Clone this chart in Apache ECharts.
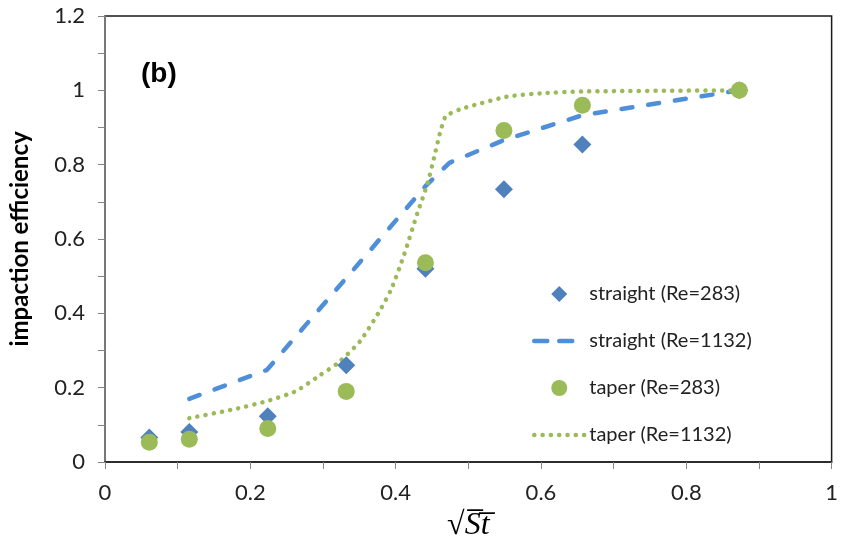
<!DOCTYPE html>
<html>
<head>
<meta charset="utf-8">
<script src="https://cdn.jsdelivr.net/npm/echarts@6/dist/echarts.min.js"></script>
<style>
html,body{margin:0;padding:0;background:#fff;}
#chart{width:841px;height:548px;}
</style>
</head>
<body>
<div id="chart"></div>
<script>
// sqrt(St) values of the measured points
var xPts = [0.061, 0.116, 0.224, 0.332, 0.441, 0.549, 0.657, 0.873];
var straight283 = [0.066, 0.081, 0.123, 0.26, 0.52, 0.734, 0.854, 1.0];
var taper283 = [0.053, 0.061, 0.09, 0.19, 0.536, 0.892, 0.96, 1.0];

// simulated curves
var straight1132X = [0.116, 0.223, 0.332, 0.441, 0.474, 0.549, 0.657, 0.873];
var straight1132Y = [0.17, 0.248, 0.495, 0.742, 0.805, 0.866, 0.933, 1.0];

var taper1132X = [0.116, 0.18, 0.223, 0.262, 0.294, 0.321, 0.351, 0.376, 0.394, 0.412, 0.43, 0.444, 0.453, 0.461, 0.469, 0.49, 0.508, 0.553, 0.6, 0.657, 0.873];
var taper1132Y = [0.118, 0.143, 0.164, 0.19, 0.231, 0.267, 0.325, 0.40, 0.465, 0.56, 0.67, 0.75, 0.82, 0.885, 0.93, 0.95, 0.96, 0.983, 0.992, 0.997, 1.0];

var xTicks = {min: 0, max: 1, interval: 0.2};
var yTicks = {min: 0, max: 1.2, interval: 0.2};

var seriesNames = ['straight (Re=283)', 'straight (Re=1132)', 'taper (Re=283)', 'taper (Re=1132)'];

function zip(xs, ys) { return xs.map(function (x, i) { return [x, ys[i]]; }); }

var BLUE = '#4F81BD', LBLUE = '#4F8FD9', GREEN = '#9BBB59';
var FONT = 'Lato';
var DIAMOND = 'path://M5,0L10,5L5,10L0,5Z';
var CIRCLE = 'path://M5,0A5,5,0,1,1,5,10A5,5,0,1,1,5,0Z';
var HIDE = {color: 'rgba(0,0,0,0)', borderWidth: 0};
var DASH = {color: LBLUE, width: 4.5, type: [11, 16], cap: 'round'};
var DOT = {color: GREEN, width: 4.5, type: [0.1, 8.2], cap: 'round'};

var chart = echarts.init(document.getElementById('chart'));
chart.setOption({
  animation: false,
  backgroundColor: '#fff',
  title: {
    text: '(b)', left: 136, top: 55,
    textStyle: {fontFamily: 'Liberation Sans', fontWeight: 'bold', fontSize: 28, color: '#000'}
  },
  grid: {left: 105, right: 4, top: 16, bottom: 86, show: true, borderColor: '#1a1a1a', borderWidth: 1.5},
  legend: {
    orient: 'vertical', left: 527, top: 279, itemWidth: 50, itemHeight: 16, itemGap: 27,
    data: [
      {name: seriesNames[0], icon: DIAMOND},
      {name: seriesNames[1], itemStyle: HIDE, lineStyle: {width: 4.5, type: [13, 12], cap: 'round'}},
      {name: seriesNames[2], icon: CIRCLE},
      {name: seriesNames[3], itemStyle: HIDE, lineStyle: {width: 4.5, type: [0.1, 8.2], cap: 'round'}}
    ],
    textStyle: {fontFamily: FONT, fontSize: 20, color: '#222'}
  },
  xAxis: {
    type: 'value', min: xTicks.min, max: xTicks.max, interval: xTicks.interval,
    name: '{r|√}{s|S̅t̅}', nameLocation: 'middle', nameGap: 48,
    nameTextStyle: {
      rich: {
        r: {fontFamily: 'Liberation Serif', fontSize: 32, color: '#000'},
        s: {fontFamily: 'Liberation Serif', fontStyle: 'italic', fontSize: 32, color: '#000'}
      }
    },
    axisLine: {show: true, lineStyle: {color: '#222', width: 1.5}},
    axisTick: {show: true, length: 7, lineStyle: {color: '#868686', width: 1}},
    minorTick: {show: true, splitNumber: 2, length: 7, lineStyle: {color: '#868686', width: 1}},
    splitLine: {show: false},
    axisLabel: {fontFamily: FONT, fontSize: 22, color: '#222', margin: 20}
  },
  yAxis: {
    type: 'value', min: yTicks.min, max: yTicks.max, interval: yTicks.interval,
    name: 'impaction efficiency', nameLocation: 'middle', nameGap: 73,
    nameTextStyle: {fontFamily: FONT, fontWeight: 'bold', fontSize: 24, color: '#000'},
    axisLine: {show: true, lineStyle: {color: '#868686', width: 1.5}},
    axisTick: {show: true, length: 7, lineStyle: {color: '#868686', width: 1}},
    minorTick: {show: true, splitNumber: 2, length: 7, lineStyle: {color: '#868686', width: 1}},
    splitLine: {show: false},
    axisLabel: {fontFamily: FONT, fontSize: 22, color: '#222', margin: 20}
  },
  series: [
    {
      name: seriesNames[1], type: 'line', data: zip(straight1132X, straight1132Y),
      symbol: 'none', z: 2,
      lineStyle: DASH,
      itemStyle: {color: LBLUE}
    },
    {
      name: seriesNames[3], type: 'line', data: zip(taper1132X, taper1132Y),
      symbol: 'none', smooth: 0.2, z: 2,
      lineStyle: DOT,
      itemStyle: {color: GREEN}
    },
    {
      name: seriesNames[0], type: 'scatter', data: zip(xPts, straight283),
      symbol: 'diamond', symbolSize: 18, z: 3,
      itemStyle: {color: BLUE, opacity: 1}
    },
    {
      name: seriesNames[2], type: 'scatter', data: zip(xPts, taper283),
      symbol: 'circle', symbolSize: 17, z: 4,
      itemStyle: {color: GREEN, opacity: 1}
    }
  ]
});
</script>
</body>
</html>
